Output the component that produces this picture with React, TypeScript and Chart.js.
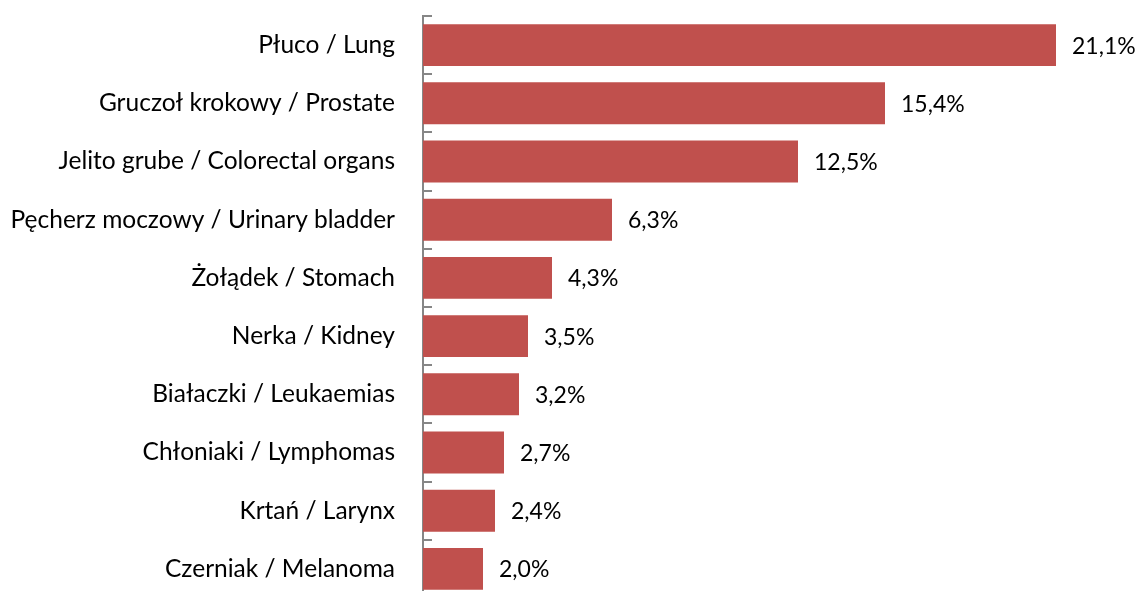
import React, { useEffect, useRef } from "react";
import { Chart, registerables } from "chart.js";

Chart.register(...registerables);

const categories = [
  "Płuco / Lung",
  "Gruczoł krokowy / Prostate",
  "Jelito grube / Colorectal organs",
  "Pęcherz moczowy / Urinary bladder",
  "Żołądek / Stomach",
  "Nerka / Kidney",
  "Białaczki / Leukaemias",
  "Chłoniaki / Lymphomas",
  "Krtań / Larynx",
  "Czerniak / Melanoma",
];
const values = [21.1, 15.4, 12.5, 6.3, 4.3, 3.5, 3.2, 2.7, 2.4, 2.0];
const valueLabels = ["21,1%", "15,4%", "12,5%", "6,3%", "4,3%", "3,5%", "3,2%", "2,7%", "2,4%", "2,0%"];

const FONT = "Lato, 'Open Sans', sans-serif";
const LABEL_SIZE = 24.5;
const VALUE_SIZE = 23;

const insideTicks = {
  id: "insideTicks",
  afterDraw(chart: any) {
    const ctx = chart.ctx;
    const y = chart.scales.y;
    const left = chart.chartArea.left;
    ctx.save();
    ctx.strokeStyle = "#868686";
    ctx.lineWidth = 2;
    for (let i = 0; i <= categories.length; i++) {
      const py = Math.round(y.getPixelForValue(i - 0.5));
      ctx.beginPath();
      ctx.moveTo(left - 1, py);
      ctx.lineTo(left + 9, py);
      ctx.stroke();
    }
    ctx.restore();
  },
};

const valueLabelPlugin = {
  id: "valueLabels",
  afterDatasetsDraw(chart: any) {
    const ctx = chart.ctx;
    const meta = chart.getDatasetMeta(0);
    ctx.save();
    ctx.fillStyle = "#000000";
    ctx.font = `${VALUE_SIZE}px ${FONT}`;
    ctx.textAlign = "left";
    ctx.textBaseline = "middle";
    meta.data.forEach((bar: any, i: number) => {
      ctx.fillText(valueLabels[i], bar.x + 16, bar.y + 1);
    });
    ctx.restore();
  },
};

export default function App() {
  const ref = useRef<HTMLCanvasElement>(null);
  useEffect(() => {
    if (!ref.current) return;
    const chart = new Chart(ref.current, {
      type: "bar",
      data: {
        labels: categories,
        datasets: [
          {
            data: values,
            backgroundColor: "#C0504D",
            borderWidth: 0,
            categoryPercentage: 1,
            barPercentage: 0.72,
          },
        ],
      },
      options: {
        indexAxis: "y",
        responsive: false,
        animation: false,
        layout: { padding: { top: 16, bottom: 0, left: 0, right: 0 } },
        plugins: {
          legend: { display: false },
          tooltip: { enabled: false },
        },
        scales: {
          x: { display: false, min: 0, max: 24 },
          y: {
            afterFit: (scale: any) => {
              scale.width = 423;
              scale.paddingTop = 0;
              scale.paddingBottom = 0;
            },
            grid: { display: false, drawTicks: false },
            border: { display: true, color: "#868686", width: 2 },
            ticks: {
              padding: 28,
              color: "#000000",
              font: { family: FONT, size: LABEL_SIZE },
            },
          },
        },
      },
      plugins: [insideTicks, valueLabelPlugin],
    });
    return () => chart.destroy();
  }, []);
  return (
    <div
      style={{
        position: "fixed",
        left: 0,
        top: 0,
        width: 1140,
        height: 591,
        overflow: "hidden",
        background: "#ffffff",
      }}
    >
      <canvas ref={ref} width={1143} height={598} style={{ display: "block" }} />
    </div>
  );
}
